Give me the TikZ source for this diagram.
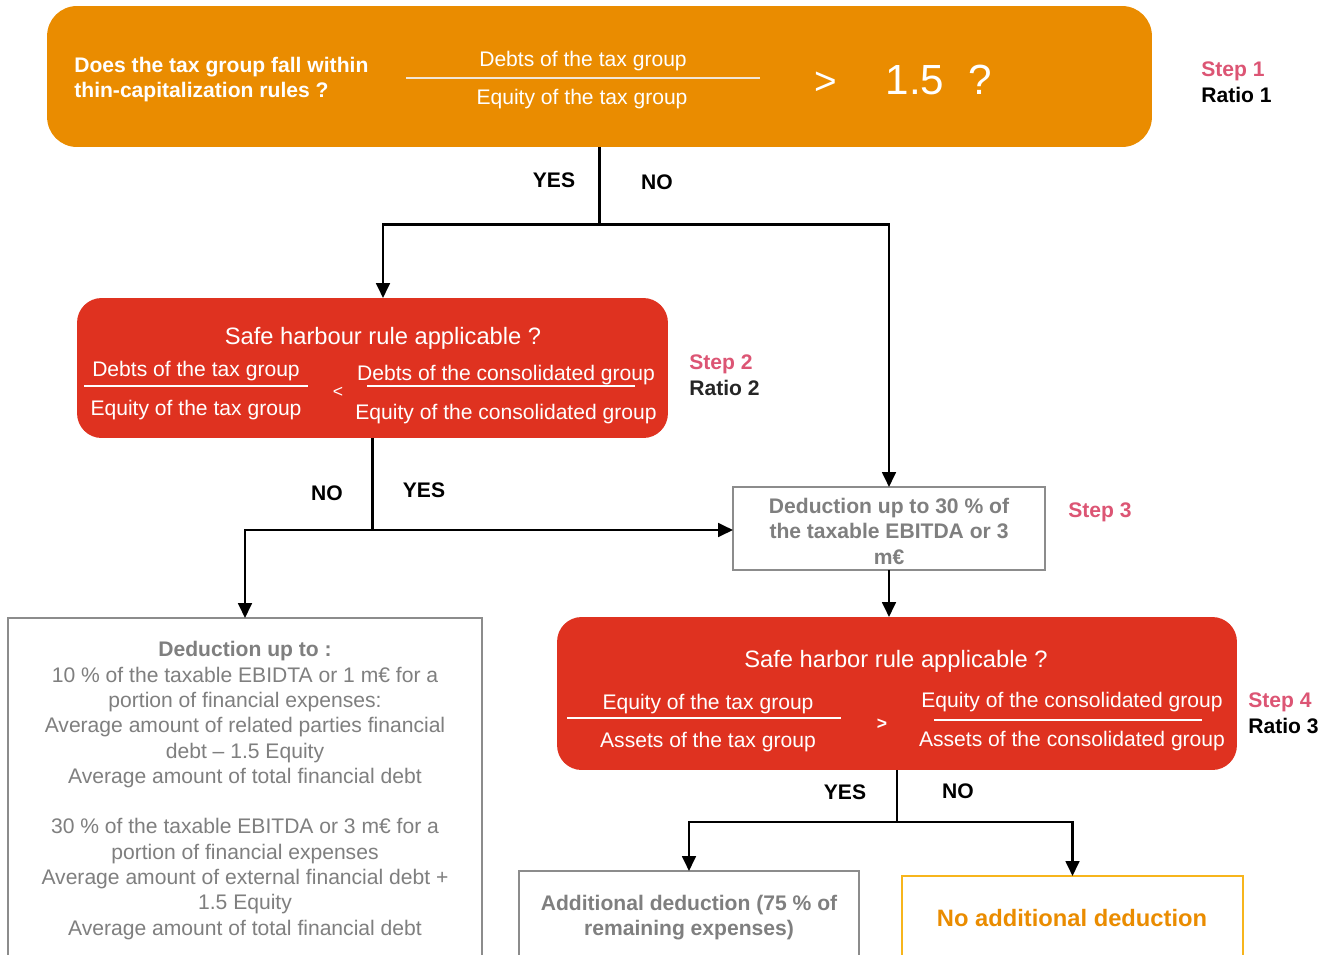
\documentclass[tikz,border=0pt]{standalone}
\usepackage{fontspec}
\setmainfont{Liberation Sans}
\usetikzlibrary{arrows.meta,calc}
\definecolor{orng}{HTML}{EA8C00}
\definecolor{redb}{HTML}{DF3220}
\definecolor{stepc}{HTML}{DC5574}
\definecolor{gtxt}{HTML}{7F7F7F}
\definecolor{gbrd}{HTML}{8C8C8C}
\definecolor{ybrd}{HTML}{F7B51C}
\definecolor{fline}{HTML}{F2E6D6}
\newcommand{\fs}[2]{\fontsize{#1}{#2}\selectfont}
\begin{document}
\begin{tikzpicture}[x=0.02cm,y=-0.02cm,
  box/.style={inner sep=0pt, outer sep=0pt},
  obox/.style={box, fill=orng, rounded corners=17pt},
  rbox/.style={box, fill=redb, rounded corners=14pt},
  gbox/.style={box, draw=gbrd, line width=1.4pt, fill=white},
  ybox/.style={box, draw=ybrd, line width=1.2pt, fill=white},
  wt/.style={text=white, font=\fs{12}{14.4}, inner sep=0pt, yshift=-0.04cm},
  ttl/.style={text=white, font=\fs{13.5}{16}, inner sep=0pt, yshift=-0.04cm},
  yn/.style={font=\bfseries\fs{12}{14.4}, inner sep=0pt},
  steplbl/.style={font=\bfseries\fs{12}{14.6}, align=left, anchor=west, inner sep=0pt},
  gt/.style={text=gtxt, font=\fs{12}{14.4}, align=center, inner sep=0pt, yshift=-0.03cm},
  fl/.style={line width=1.3pt},
  ln/.style={line width=1.4pt},
  arr/.style={line width=1.4pt, -{Triangle[length=8.5pt,width=7.8pt]}}
]
\useasboundingbox (0,0) rectangle (1322,954);
\clip (0,0) rectangle (1322,954);

% ---------- Step 1 ----------
\node[obox, minimum width=22.1cm, minimum height=2.82cm] (q1) at (599.5,76.5) {};
\node[wt, font=\bfseries\fs{12}{14.2}, align=left, anchor=west] (q1t) at (74,77.5) {Does the tax group fall within\\thin-capitalization rules ?};
\node[wt] (q1n) at (583,59) {Debts of the tax group};
\node[wt] (q1d) at (582,97) {Equity of the tax group};
\draw[fline, fl] (406,78) -- (760,78);
\node[wt, font=\fs{22}{24}] (q1g) at (826,81) {>};
\node[wt, font=\fs{24}{26}] (q1v) at (915,78) {1.5};
\node[wt, font=\fs{24}{26}] (q1q) at (980,78) {?};
\node[steplbl] (s1) at (1201,82) {\textcolor{stepc}{Step 1}\\Ratio 1};

% ---------- Step 2 ----------
\node[rbox, minimum width=11.82cm, minimum height=2.8cm] (q2) at (372.5,368) {};
\node[ttl] (q2t) at (383,336) {Safe harbour rule applicable ?};
\node[wt] (q2a) at (196,369) {Debts of the tax group};
\draw[white, fl] (84,386) -- (308,386);
\node[wt] (q2b) at (196,408) {Equity of the tax group};
\node[wt, font=\fs{10}{12}] (q2lt) at (338,390) {<};
\node[wt] (q2c) at (506,373) {Debts of the consolidated group};
\draw[white, fl] (367,386) -- (635,386);
\node[wt] (q2d) at (506,412) {Equity of the consolidated group};
\node[steplbl] (s2) at (689,375) {\textcolor{stepc}{Step 2}\\\textcolor{black!85}{Ratio 2}};

% ---------- Step 3 ----------
\node[gbox, minimum width=6.24cm, minimum height=1.66cm] (d3) at (889,528.5) {};
\node[gt, font=\bfseries\fs{12}{14.5}] (d3t) at (889,529.5) {Deduction up to 30 \% of\\the taxable EBITDA or 3\\m€};
\node[steplbl] (s3) at (1068,512) {\textcolor{stepc}{Step 3}};

% ---------- left result ----------
\node[gbox, minimum width=9.48cm, minimum height=7.44cm] (d2) at (245,804) {};
\node[gt, font=\fs{12}{14.4}] (d2t) at (245,789) {\textbf{Deduction up to :}\\
10 \% of the taxable EBIDTA or 1 m€ for a\\
portion of financial expenses:\\
Average amount of related parties financial\\
debt – 1.5 Equity\\
Average amount of total financial debt\\[14.4pt]
30 \% of the taxable EBITDA or 3 m€ for a\\
portion of financial expenses\\
Average amount of external financial debt +\\
1.5 Equity\\
Average amount of total financial debt};

% ---------- Step 4 ----------
\node[rbox, minimum width=13.6cm, minimum height=3.06cm] (q4) at (897,693.5) {};
\node[ttl] (q4t) at (896,659) {Safe harbor rule applicable ?};
\node[wt] (q4a) at (708,702) {Equity of the tax group};
\draw[white, fl] (567,718) -- (841,718);
\node[wt] (q4b) at (708,740) {Assets of the tax group};
\node[wt, font=\bfseries\fs{10}{12}] (q4gt) at (882,722) {>};
\node[wt] (q4c) at (1072,700) {Equity of the consolidated group};
\draw[white, fl] (934,720) -- (1202,720);
\node[wt] (q4d) at (1072,739) {Assets of the consolidated group};
\node[steplbl] (s4) at (1248,713) {\textcolor{stepc}{Step 4}\\Ratio 3};

% ---------- final results ----------
\node[gbox, minimum width=6.8cm, minimum height=2.38cm] (a5) at (689,930.5) {};
\node[gt, font=\bfseries\fs{12}{14.6}] (a5t) at (689,916) {Additional deduction (75 \% of\\remaining expenses)};
\node[ybox, minimum width=6.82cm, minimum height=2.28cm] (n5) at (1072.5,933) {};
\node[text=orng, font=\bfseries\fs{13.5}{16}, inner sep=0pt] (n5t) at (1072,918) {No additional deduction};

% ---------- labels ----------
\node[yn] (y1) at (554,180) {YES};
\node[yn] (n1) at (657,182) {NO};
\node[yn] (n2) at (327,493) {NO};
\node[yn] (y2) at (424,490) {YES};
\node[yn] (y4) at (845,792) {YES};
\node[yn] (n4) at (958,791) {NO};

% ---------- connectors ----------
\coordinate (j1) at ($(q1.south)+(0,77.5)$);
\draw[ln] (q1.south) -- (j1);
\draw[arr] (j1) -| ([xshift=0.21cm]q2.north);
\draw[arr] (j1) -| (d3.north);
\coordinate (j2) at ($(q2.south |- d3.west)+(0,1.5)$);
\draw[ln] (q2.south) -- (j2);
\draw[arr] (j2) -- (j2 -| d3.west);
\draw[arr] (j2) -| (d2.north);
\draw[arr] (d3.south) -- (d3.south |- q4.north);
\coordinate (j3) at ($(q4.south)+(0,52)$);
\draw[ln] (q4.south) -- (j3);
\draw[arr] (j3) -| (a5.north);
\draw[arr] (j3) -| (n5.north);
\end{tikzpicture}
\end{document}
